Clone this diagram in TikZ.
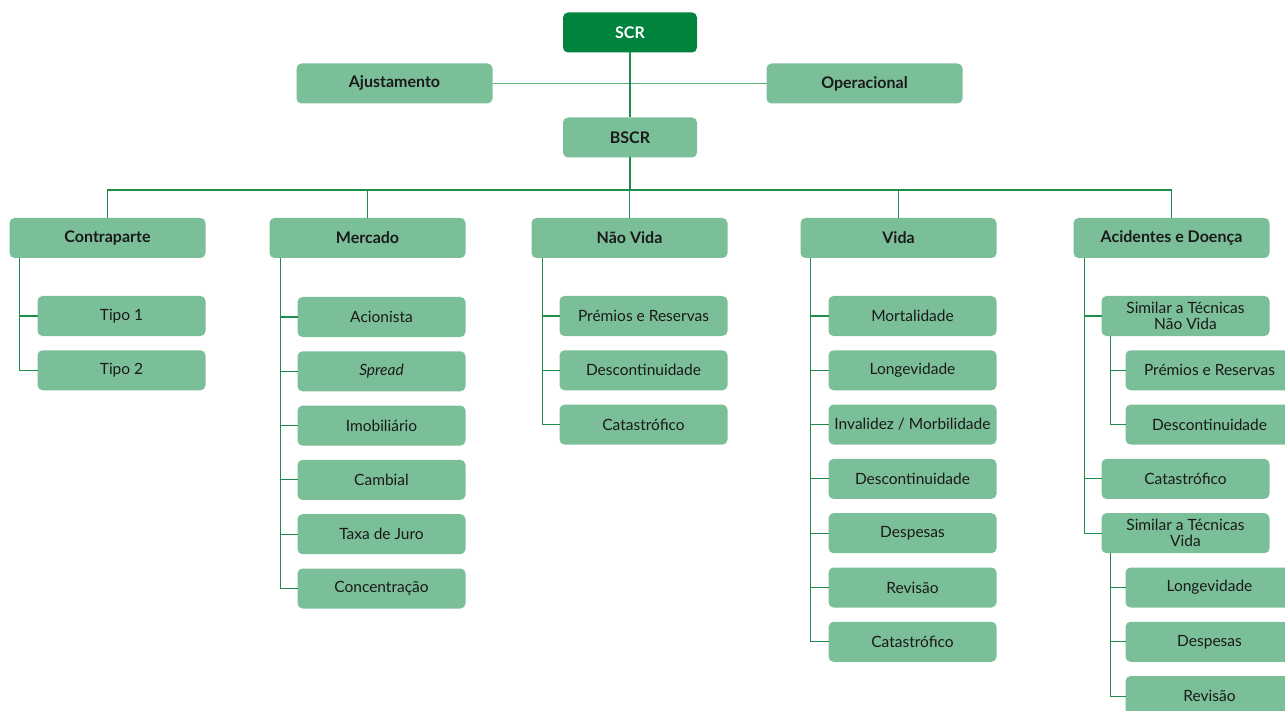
\documentclass[tikz,border=0pt]{standalone}
\usepackage{fontspec}
\setmainfont{Lato}
\usetikzlibrary{positioning}
\definecolor{scrgreen}{HTML}{00843D}
\definecolor{boxgreen}{HTML}{7BBF98}
\definecolor{linegreen}{HTML}{1E8C4A}
\definecolor{palegreen}{HTML}{5FAE7E}
\definecolor{txt}{HTML}{1A1A1A}
\tikzset{
x=1pt, y=-1pt, % pixel-like coordinates, y grows downwards
box/.style={rectangle, rounded corners=5pt, fill=boxgreen, text=txt,
  minimum height=40pt, inner sep=2pt, outer sep=0pt, align=center,
  font=\fontsize{15.5}{16}\selectfont}, % every box
top/.style={box, minimum width=134pt, font=\fontsize{16}{17}\selectfont\bfseries},
head/.style={box, minimum width=196pt, font=\fontsize{16}{17}\selectfont\bfseries},
sub/.style={box, minimum width=168pt},
link/.style={draw=linegreen, line width=1.1pt}, % connectors
}
\begin{document}
\begin{tikzpicture}
\useasboundingbox (0,0) rectangle (1285,711);
% top of the tree
\node[top, fill=scrgreen, text=white] (scr) at (630,32.5) {SCR};
\node[head] (aj) at (394.5,83.5) {Ajustamento};
\node[head] (op) at (864.5,83.5) {Operacional};
\node[top] (bscr) at (630,137.5) {BSCR};
\coordinate (bus) at (630,190);

% modules
\node[head] (cp) at (107.5,238) {Contraparte};
\node[head] (me) at (367.5,238) {Mercado};
\node[head] (nv) at (629.5,238) {Não Vida};
\node[head] (vi) at (898.5,238) {Vida};
\node[head] (ad) at (1171.5,238) {Acidentes e Doença};

% Contraparte
\node[sub, below=38pt of cp.south east, anchor=north east] (cp1) {Tipo 1};
\node[sub, below=14.3pt of cp1] (cp2) {Tipo 2};

% Mercado
\node[sub, below=39pt of me.south east, anchor=north east] (me1) {Acionista};
\node[sub, below=14.3pt of me1] (me2) {\itshape Spread};
\node[sub, below=14.3pt of me2] (me3) {Imobiliário};
\node[sub, below=14.3pt of me3] (me4) {Cambial};
\node[sub, below=14.3pt of me4] (me5) {Taxa de Juro};
\node[sub, below=14.3pt of me5] (me6) {Concentração};

% Nao Vida
\node[sub, below=38pt of nv.south east, anchor=north east] (nv1) {Prémios e Reservas};
\node[sub, below=14.3pt of nv1] (nv2) {Descontinuidade};
\node[sub, below=14.3pt of nv2] (nv3) {Catastrófico};

% Vida
\node[sub, below=38pt of vi.south east, anchor=north east] (vi1) {Mortalidade};
\node[sub, below=14.3pt of vi1] (vi2) {Longevidade};
\node[sub, below=14.3pt of vi2] (vi3) {Invalidez / Morbilidade};
\node[sub, below=14.3pt of vi3] (vi4) {Descontinuidade};
\node[sub, below=14.3pt of vi4] (vi5) {Despesas};
\node[sub, below=14.3pt of vi5] (vi6) {Revisão};
\node[sub, below=14.3pt of vi6] (vi7) {Catastrófico};

% Acidentes e Doenca
\node[sub, below=38pt of ad.south east, anchor=north east] (ad1) {Similar a Técnicas\\Não Vida};
\node[sub, below=14.3pt of ad1.south east, anchor=north east, xshift=24pt] (ad11) {Prémios e Reservas};
\node[sub, below=14.3pt of ad11] (ad12) {Descontinuidade};
\node[sub, below=14.3pt of ad12.south east, anchor=north east, xshift=-24pt] (ad2) {Catastrófico};
\node[sub, below=14.3pt of ad2] (ad3) {Similar a Técnicas\\Vida};
\node[sub, below=14.3pt of ad3.south east, anchor=north east, xshift=24pt] (ad31) {Longevidade};
\node[sub, below=14.3pt of ad31] (ad32) {Despesas};
\node[sub, below=14.3pt of ad32] (ad33) {Revisão};

% connectors
\draw[draw=palegreen, line width=1.1pt] (aj.east) -- (op.west);
\draw[link] (scr.south) -- (bscr.north);
\draw[link] (bscr.south) -- (bus);
\foreach \m in {cp,me,nv,vi,ad}
  \draw[link] (bus) -| (\m.north);
\foreach \c in {cp1,cp2}
  \draw[link] (cp.south west) ++(10,0) |- (\c.west);
\foreach \c in {me1,me2,me3,me4,me5,me6}
  \draw[link] (me.south west) ++(11,0) |- (\c.west);
\foreach \c in {nv1,nv2,nv3}
  \draw[link] (nv.south west) ++(11,0) |- (\c.west);
\foreach \c in {vi1,vi2,vi3,vi4,vi5,vi6,vi7}
  \draw[link] (vi.south west) ++(10,0) |- (\c.west);
\foreach \c in {ad1,ad2,ad3}
  \draw[link] (ad.south west) ++(11,0) |- (\c.west);
\foreach \c in {ad11,ad12}
  \draw[link] (ad1.south west) ++(9,0) |- (\c.west);
\foreach \c in {ad31,ad32,ad33}
  \draw[link] (ad3.south west) ++(9,0) |- (\c.west);
\end{tikzpicture}
\end{document}
